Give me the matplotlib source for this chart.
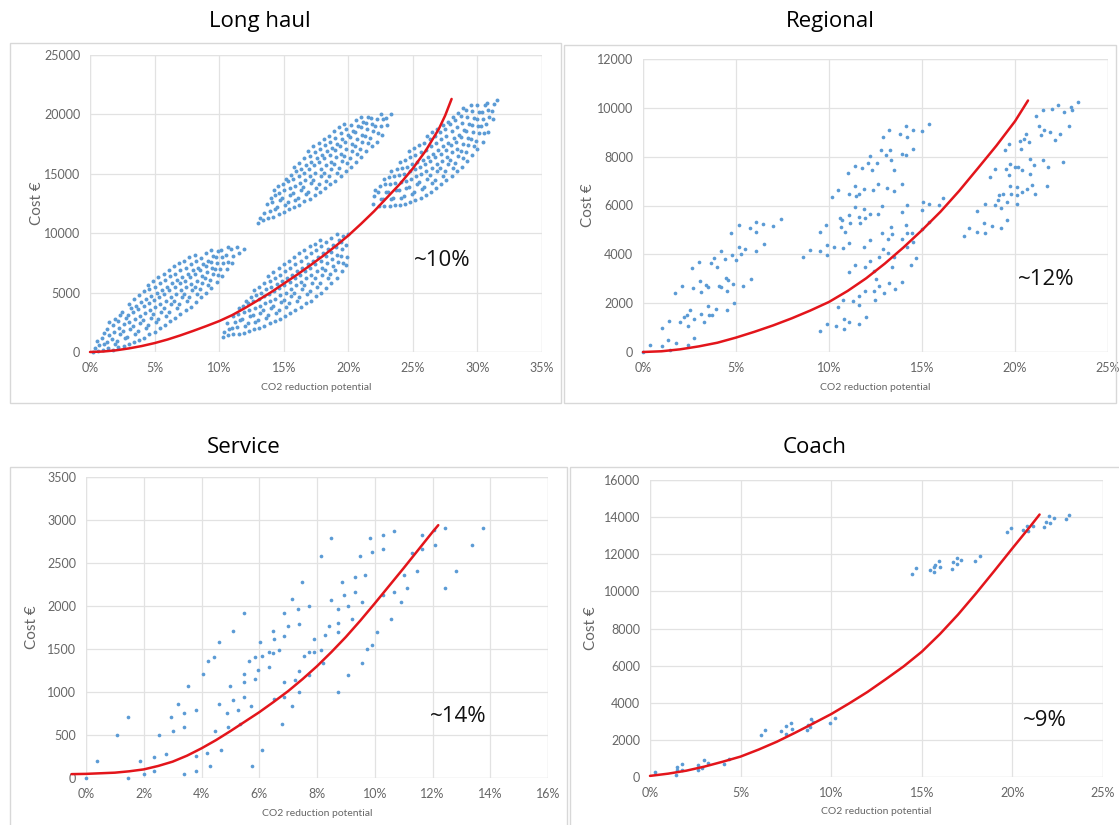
import matplotlib
matplotlib.use("Agg")
import matplotlib.pyplot as plt
from matplotlib.patches import Rectangle

plt.rcParams['font.family'] = ['Lato', 'DejaVu Sans']
HEAD_FONT = ['Open Sans', 'DejaVu Sans']

W, H = 1119, 825

# ---------------- data: x = CO2 reduction potential (%), y = cost ----------------
# Long haul, four clusters (cost in thousand €)
long_haul_c1_k = [
    (0.2, 0.0), (0.35, 0.3), (0.6, 0.1), (0.7, 0.55), (0.55, 0.9),
    (1.0, 0.2), (1.1, 0.7), (0.9, 1.2), (1.05, 1.6),
    (1.4, 0.3), (1.3, 0.85), (1.5, 1.4), (1.35, 1.95), (1.45, 2.5),
    (1.8, 0.2), (1.9, 0.65), (1.7, 1.1), (1.85, 1.7), (1.75, 2.25), (1.95, 2.8),
    (2.2, 0.45), (2.1, 0.95), (2.3, 1.5), (2.25, 2.05), (2.15, 2.6), (2.35, 3.1),
    (2.6, 0.5), (2.7, 1.2), (2.55, 1.8), (2.65, 2.35), (2.75, 2.9), (2.5, 3.4),
    (3.0, 0.65), (2.9, 1.3), (3.1, 1.9), (3.05, 2.5), (2.95, 3.1), (3.15, 3.7), (3.0, 4.0),
    (3.4, 0.8), (3.5, 1.55), (3.3, 2.2), (3.45, 2.8), (3.35, 3.35), (3.55, 3.9), (3.4, 4.5),
    (3.8, 1.0), (3.7, 1.8), (3.9, 2.4), (3.85, 3.0), (3.75, 3.6), (3.95, 4.2), (3.8, 4.8),
    (4.2, 1.2), (4.3, 2.0), (4.1, 2.7), (4.25, 3.3), (4.15, 3.9), (4.35, 4.5), (4.2, 5.1),
    (4.6, 1.5), (4.5, 2.3), (4.7, 2.9), (4.65, 3.5), (4.55, 4.1), (4.75, 4.7), (4.6, 5.3), (4.5, 5.6),
    (5.0, 1.7), (5.1, 2.5), (4.9, 3.2), (5.05, 3.8), (4.95, 4.4), (5.15, 5.0), (5.0, 5.5), (4.9, 6.0),
    (5.4, 2.0), (5.3, 2.8), (5.5, 3.4), (5.45, 4.0), (5.35, 4.6), (5.55, 5.2), (5.4, 5.8), (5.3, 6.3),
    (5.8, 2.3), (5.9, 3.0), (5.7, 3.7), (5.85, 4.3), (5.75, 4.9), (5.95, 5.5), (5.8, 6.1), (5.7, 6.6),
    (6.2, 2.6), (6.1, 3.4), (6.3, 4.0), (6.25, 4.6), (6.15, 5.2), (6.35, 5.8), (6.2, 6.4), (6.1, 6.9),
    (6.6, 2.9), (6.7, 3.7), (6.5, 4.3), (6.65, 4.9), (6.55, 5.5), (6.75, 6.1), (6.6, 6.6), (6.5, 7.2),
    (7.0, 3.2), (6.9, 4.0), (7.1, 4.6), (7.05, 5.2), (6.95, 5.8), (7.15, 6.3), (7.0, 6.9), (6.9, 7.5),
    (7.4, 3.5), (7.5, 4.3), (7.3, 4.9), (7.45, 5.5), (7.35, 6.0), (7.55, 6.6), (7.4, 7.1), (7.3, 7.7),
    (7.8, 3.8), (7.7, 4.6), (7.9, 5.2), (7.85, 5.7), (7.75, 6.3), (7.95, 6.9), (7.8, 7.4), (7.7, 8.0),
    (8.2, 4.2), (8.3, 4.9), (8.1, 5.5), (8.25, 6.0), (8.15, 6.6), (8.35, 7.1), (8.2, 7.7), (8.1, 8.2),
    (8.6, 4.6), (8.5, 5.3), (8.7, 5.8), (8.65, 6.4), (8.55, 6.9), (8.75, 7.4), (8.6, 7.9),
    (9.0, 5.0), (9.1, 5.6), (8.9, 6.2), (9.05, 6.7), (8.95, 7.2), (9.15, 7.7), (9.0, 8.3),
    (9.4, 5.4), (9.3, 6.1), (9.5, 6.6), (9.45, 7.1), (9.35, 7.6), (9.55, 8.1), (9.4, 8.6),
    (9.8, 5.9), (9.9, 6.5), (9.7, 7.0), (9.85, 7.5), (9.75, 8.0), (9.95, 8.5),
    (10.2, 6.4), (10.1, 7.0), (10.3, 7.5), (10.25, 8.0), (10.15, 8.6),
    (10.6, 7.0), (10.7, 7.6), (10.5, 8.2), (10.65, 8.8),
    (11.0, 7.5), (11.1, 8.1), (10.9, 8.7),
    (11.5, 8.3), (11.4, 8.8), (11.9, 8.7),
]
long_haul_c2_k = [
    (10.3, 1.3), (10.4, 1.7),
    (10.7, 1.4), (10.8, 1.9), (10.6, 2.4),
    (11.1, 1.5), (11.0, 2.0), (11.2, 2.5), (11.05, 3.0),
    (11.5, 1.5), (11.4, 2.1), (11.6, 2.7), (11.45, 3.2), (11.55, 3.7),
    (11.9, 1.6), (12.0, 2.2), (11.8, 2.8), (11.95, 3.4), (11.85, 3.9), (12.05, 4.3),
    (12.3, 1.8), (12.2, 2.4), (12.4, 3.0), (12.35, 3.5), (12.25, 4.1), (12.45, 4.6),
    (12.7, 1.9), (12.8, 2.5), (12.6, 3.1), (12.75, 3.7), (12.65, 4.3), (12.85, 4.8), (12.7, 5.2),
    (13.1, 2.0), (13.0, 2.7), (13.2, 3.3), (13.15, 3.9), (13.05, 4.5), (13.25, 5.0), (13.1, 5.5),
    (13.5, 2.2), (13.6, 2.9), (13.4, 3.5), (13.55, 4.1), (13.45, 4.7), (13.65, 5.3), (13.5, 5.8),
    (13.9, 2.4), (13.8, 3.1), (14.0, 3.7), (13.95, 4.3), (13.85, 4.9), (14.05, 5.5), (13.9, 6.0), (13.8, 6.4),
    (14.3, 2.6), (14.4, 3.3), (14.2, 3.9), (14.35, 4.5), (14.25, 5.1), (14.45, 5.7), (14.3, 6.2), (14.2, 6.7),
    (14.7, 2.8), (14.6, 3.5), (14.8, 4.2), (14.75, 4.8), (14.65, 5.4), (14.85, 6.0), (14.7, 6.5), (14.6, 7.1),
    (15.1, 3.0), (15.2, 3.8), (15.0, 4.4), (15.15, 5.0), (15.05, 5.6), (15.25, 6.2), (15.1, 6.8), (15.0, 7.4),
    (15.5, 3.3), (15.4, 4.1), (15.6, 4.7), (15.55, 5.3), (15.45, 5.9), (15.65, 6.5), (15.5, 7.1), (15.4, 7.7),
    (15.9, 3.5), (16.0, 4.3), (15.8, 5.0), (15.95, 5.6), (15.85, 6.2), (16.05, 6.8), (15.9, 7.4), (15.8, 8.0),
    (16.3, 3.8), (16.2, 4.6), (16.4, 5.3), (16.35, 5.9), (16.25, 6.5), (16.45, 7.1), (16.3, 7.7), (16.2, 8.3),
    (16.7, 4.1), (16.8, 4.9), (16.6, 5.6), (16.75, 6.2), (16.65, 6.8), (16.85, 7.4), (16.7, 8.0), (16.6, 8.6),
    (17.1, 4.3), (17.0, 5.1), (17.2, 5.8), (17.15, 6.5), (17.05, 7.1), (17.25, 7.7), (17.1, 8.3), (17.0, 8.9),
    (17.5, 4.7), (17.6, 5.5), (17.4, 6.2), (17.55, 6.8), (17.45, 7.4), (17.65, 8.0), (17.5, 8.6), (17.4, 9.1),
    (17.9, 5.0), (17.8, 5.8), (18.0, 6.5), (17.95, 7.1), (17.85, 7.7), (18.05, 8.3), (17.9, 8.9), (17.8, 9.4),
    (18.3, 5.4), (18.4, 6.2), (18.2, 6.9), (18.35, 7.5), (18.25, 8.1), (18.45, 8.7), (18.3, 9.3),
    (18.7, 5.8), (18.6, 6.6), (18.8, 7.2), (18.75, 7.8), (18.65, 8.4), (18.85, 9.0), (18.7, 9.6),
    (19.1, 6.2), (19.0, 6.9), (19.2, 7.6), (19.15, 8.2), (19.05, 8.8), (19.25, 9.4), (19.1, 9.9),
    (19.5, 6.8), (19.6, 7.5), (19.4, 8.1), (19.55, 8.7), (19.45, 9.3), (19.6, 9.8),
    (19.8, 7.3), (19.9, 8.0), (19.85, 9.0), (20.0, 9.9),
]
long_haul_c3_k = [
    (13.0, 10.9), (13.2, 11.3), (13.4, 11.1), (13.5, 11.7),
    (13.8, 11.3), (13.9, 11.9), (13.7, 12.5), (14.0, 13.0),
    (14.2, 11.4), (14.3, 12.0), (14.1, 12.6), (14.35, 13.2), (14.25, 13.6),
    (14.6, 11.6), (14.5, 12.2), (14.7, 12.8), (14.65, 13.4), (14.55, 14.0),
    (15.0, 11.8), (15.1, 12.4), (14.9, 13.0), (15.05, 13.6), (14.95, 14.1), (15.15, 14.6),
    (15.4, 12.0), (15.3, 12.6), (15.5, 13.2), (15.45, 13.8), (15.35, 14.4), (15.55, 14.9),
    (15.8, 12.2), (15.9, 12.8), (15.7, 13.4), (15.85, 14.0), (15.75, 14.6), (15.95, 15.2), (15.8, 15.6),
    (16.2, 12.4), (16.1, 13.0), (16.3, 13.6), (16.25, 14.2), (16.15, 14.8), (16.35, 15.4), (16.2, 15.9),
    (16.6, 12.7), (16.7, 13.3), (16.5, 13.9), (16.65, 14.5), (16.55, 15.1), (16.75, 15.7), (16.6, 16.3),
    (17.0, 12.9), (16.9, 13.5), (17.1, 14.2), (17.05, 14.8), (16.95, 15.4), (17.15, 16.0), (17.0, 16.5), (16.9, 16.9),
    (17.4, 13.2), (17.5, 13.8), (17.3, 14.5), (17.45, 15.1), (17.35, 15.7), (17.55, 16.3), (17.4, 16.8), (17.3, 17.3),
    (17.8, 13.5), (17.7, 14.1), (17.9, 14.8), (17.85, 15.4), (17.75, 16.0), (17.95, 16.6), (17.8, 17.1), (17.7, 17.6),
    (18.2, 13.8), (18.3, 14.4), (18.1, 15.1), (18.25, 15.7), (18.15, 16.3), (18.35, 16.9), (18.2, 17.4), (18.1, 17.9),
    (18.6, 14.1), (18.5, 14.8), (18.7, 15.4), (18.65, 16.0), (18.55, 16.6), (18.75, 17.2), (18.6, 17.7), (18.5, 18.2),
    (19.0, 14.4), (19.1, 15.1), (18.9, 15.8), (19.05, 16.4), (18.95, 17.0), (19.15, 17.5), (19.0, 18.0), (18.9, 18.6),
    (19.4, 14.8), (19.3, 15.5), (19.5, 16.1), (19.45, 16.7), (19.35, 17.3), (19.55, 17.9), (19.4, 18.4), (19.3, 18.9),
    (19.8, 15.2), (19.9, 15.9), (19.7, 16.5), (19.85, 17.1), (19.75, 17.7), (19.95, 18.3), (19.8, 18.8), (19.7, 19.2),
    (20.2, 15.6), (20.1, 16.3), (20.3, 16.9), (20.25, 17.5), (20.15, 18.1), (20.35, 18.6), (20.2, 19.1),
    (20.6, 16.0), (20.7, 16.7), (20.5, 17.3), (20.65, 17.9), (20.55, 18.5), (20.75, 19.0), (20.6, 19.5),
    (21.0, 16.4), (20.9, 17.1), (21.1, 17.7), (21.05, 18.3), (20.95, 18.9), (21.15, 19.4), (21.0, 19.8),
    (21.4, 16.9), (21.5, 17.6), (21.3, 18.2), (21.45, 18.8), (21.35, 19.3), (21.55, 19.8),
    (21.8, 17.3), (21.7, 18.0), (21.9, 18.6), (21.85, 19.2), (21.75, 19.7),
    (22.2, 17.7), (22.3, 18.4), (22.1, 19.0), (22.25, 19.6),
    (22.6, 18.3), (22.5, 19.0), (22.7, 19.6), (22.55, 20.0),
    (23.0, 19.1), (22.9, 19.7), (23.3, 20.0),
]
long_haul_c4_k = [
    (21.9, 12.5), (22.0, 13.1), (22.1, 13.6),
    (22.4, 12.3), (22.5, 12.9), (22.3, 13.5), (22.45, 14.0),
    (22.8, 12.3), (22.7, 12.9), (22.9, 13.5), (22.85, 14.1), (22.75, 14.6),
    (23.2, 12.3), (23.3, 12.9), (23.1, 13.5), (23.25, 14.1), (23.15, 14.7), (23.3, 15.2),
    (23.6, 12.4), (23.5, 13.0), (23.7, 13.6), (23.65, 14.2), (23.55, 14.8), (23.75, 15.4),
    (24.0, 12.4), (24.1, 13.0), (23.9, 13.6), (24.05, 14.3), (23.95, 14.9), (24.15, 15.5), (24.0, 16.0),
    (24.4, 12.5), (24.3, 13.1), (24.5, 13.8), (24.45, 14.4), (24.35, 15.0), (24.55, 15.6), (24.4, 16.2),
    (24.8, 12.6), (24.9, 13.3), (24.7, 13.9), (24.85, 14.6), (24.75, 15.2), (24.95, 15.8), (24.8, 16.4), (24.7, 16.9),
    (25.2, 12.8), (25.1, 13.5), (25.3, 14.1), (25.25, 14.8), (25.15, 15.4), (25.35, 16.0), (25.2, 16.6), (25.1, 17.2),
    (25.6, 13.0), (25.7, 13.7), (25.5, 14.3), (25.65, 15.0), (25.55, 15.6), (25.75, 16.2), (25.6, 16.8), (25.5, 17.4),
    (26.0, 13.2), (25.9, 13.9), (26.1, 14.6), (26.05, 15.2), (25.95, 15.8), (26.15, 16.4), (26.0, 17.0), (25.9, 17.6), (26.1, 18.2),
    (26.4, 13.5), (26.5, 14.2), (26.3, 14.9), (26.45, 15.5), (26.35, 16.1), (26.55, 16.7), (26.4, 17.3), (26.3, 17.9), (26.5, 18.5),
    (26.8, 13.8), (26.7, 14.5), (26.9, 15.2), (26.85, 15.8), (26.75, 16.4), (26.95, 17.0), (26.8, 17.6), (26.7, 18.2), (26.9, 18.8),
    (27.2, 14.1), (27.3, 14.8), (27.1, 15.5), (27.25, 16.1), (27.15, 16.7), (27.35, 17.3), (27.2, 17.9), (27.1, 18.5), (27.3, 19.1),
    (27.6, 14.5), (27.5, 15.2), (27.7, 15.8), (27.65, 16.4), (27.55, 17.0), (27.75, 17.6), (27.6, 18.2), (27.5, 18.8), (27.7, 19.4),
    (28.0, 14.8), (28.1, 15.5), (27.9, 16.2), (28.05, 16.8), (27.95, 17.4), (28.15, 18.0), (28.0, 18.6), (27.9, 19.2), (28.1, 19.8),
    (28.4, 15.2), (28.3, 15.9), (28.5, 16.5), (28.45, 17.1), (28.35, 17.7), (28.55, 18.3), (28.4, 18.9), (28.3, 19.5), (28.5, 20.1),
    (28.8, 15.6), (28.9, 16.3), (28.7, 16.9), (28.85, 17.5), (28.75, 18.1), (28.95, 18.7), (28.8, 19.3), (28.7, 19.9), (28.9, 20.5),
    (29.2, 16.1), (29.1, 16.8), (29.3, 17.4), (29.25, 18.0), (29.15, 18.6), (29.35, 19.2), (29.2, 19.8), (29.1, 20.4),
    (29.6, 16.6), (29.7, 17.3), (29.5, 17.9), (29.65, 18.5), (29.55, 19.1), (29.75, 19.7), (29.6, 20.3), (29.5, 20.8),
    (30.0, 17.1), (29.9, 17.8), (30.1, 18.4), (30.05, 19.0), (29.95, 19.6), (30.15, 20.2), (30.0, 20.8),
    (30.4, 17.7), (30.5, 18.4), (30.3, 19.0), (30.45, 19.6), (30.35, 20.2), (30.55, 20.8),
    (30.8, 18.5), (30.7, 19.2), (30.9, 19.8), (30.85, 20.4), (30.75, 21.0),
    (31.2, 19.6), (31.1, 20.3), (31.3, 20.9), (31.5, 21.2),
]
long_haul_trend = [(0, 0), (1, 40), (2, 140), (3, 300), (4, 500), (5, 750), (6, 1050),
                   (7, 1400), (8, 1780), (9, 2180), (10, 2600), (11, 3100), (12, 3700),
                   (13, 4350), (14, 5020), (15, 5750), (16, 6480), (17, 7250), (18, 8050),
                   (19, 8900), (20, 9800), (21, 10800), (22, 11850), (23, 13000),
                   (24, 14150), (25, 15450), (26, 16950), (27, 18750), (27.5, 19900),
                   (28.0, 21300)]

# Regional (cost in €)
regional_points = [
    (0.0, 0), (0.4, 300), (1.0, 230), (1.0, 980), (1.35, 500), (1.4, 1280), (1.45, 95),
    (1.7, 2410), (1.8, 370), (2.0, 1210), (2.1, 2710), (2.2, 1430), (2.4, 1070), (2.4, 300),
    (2.35, 1510), (2.55, 1700), (2.65, 3430), (2.7, 2610), (2.75, 570), (2.75, 1350),
    (3.0, 3700), (3.05, 2910), (3.1, 2460), (3.1, 1560), (3.3, 1240), (3.4, 2750), (3.5, 2680),
    (3.5, 1900), (3.55, 1510), (3.65, 3630), (3.7, 1520), (3.8, 3860), (3.9, 1760), (4.0, 3500),
    (4.1, 2720), (4.2, 4120), (4.2, 2650), (4.4, 3800), (4.45, 3020), (4.5, 2480), (4.5, 1700),
    (4.55, 2950), (4.75, 4880), (4.8, 3970), (4.9, 2000), (5.0, 3770), (5.15, 5200), (5.15, 4310),
    (5.25, 4000), (4.85, 2790), (5.4, 2710), (5.5, 4200), (5.75, 5060), (5.8, 2980), (6.1, 5330),
    (6.1, 4900), (6.1, 4140), (6.45, 5240), (6.5, 4420), (7.0, 5170), (7.4, 5440),
    (8.6, 3900), (9.0, 4180), (9.5, 4910), (9.5, 4140), (9.5, 870), (9.85, 5210), (9.9, 3970),
    (9.9, 4380), (9.9, 1160), (10.15, 6350), (10.25, 4310), (10.4, 1070), (10.5, 6630), (10.5, 1860),
    (10.6, 5500), (10.65, 5130), (10.7, 5400), (10.75, 4240), (10.75, 2140), (10.8, 940), (10.8, 1350),
    (10.85, 4930), (11.0, 7330), (11.05, 6490), (11.05, 5610), (11.05, 3280), (11.1, 4450), (11.1, 1210),
    (11.15, 5270), (11.4, 7620), (11.4, 6790), (11.45, 6380), (11.4, 5950), (11.4, 3550), (11.3, 2070),
    (11.6, 6490), (11.6, 5540), (11.65, 5270), (11.6, 2300), (11.6, 1930), (11.6, 1160),
    (11.8, 7550), (11.9, 6690), (11.9, 5840), (11.95, 5470), (11.9, 4310), (11.95, 3500), (11.95, 2480),
    (12.0, 1430), (12.1, 7740), (12.2, 8010), (12.2, 5670), (12.2, 4590), (12.2, 3740), (12.3, 7440),
    (12.35, 6630), (12.4, 3330), (12.4, 2480), (12.45, 2140), (12.5, 2980), (12.6, 7740), (12.65, 6870),
    (12.65, 5670), (12.7, 3900), (12.7, 2710), (12.8, 8260), (12.85, 5970), (12.85, 4860), (12.9, 4200),
    (12.95, 2410), (12.9, 8800), (13.05, 8050), (13.1, 6710), (13.15, 4610), (13.15, 4040), (13.2, 2820),
    (13.25, 9100), (13.3, 8260), (13.35, 7880), (13.35, 5100), (13.4, 4830), (13.4, 3500), (13.5, 7440),
    (13.5, 6600), (13.5, 3900), (13.55, 2570), (13.8, 8940), (13.9, 8120), (13.9, 6900), (13.9, 5740),
    (13.9, 4610), (13.9, 2860), (14.15, 9240), (14.2, 8800), (14.15, 8050), (14.2, 6010), (14.15, 5200),
    (14.2, 4860), (14.2, 4290), (14.5, 9100), (14.5, 8330), (14.45, 4880), (14.5, 4520), (14.4, 3560),
    (15.0, 9070), (15.0, 5810), (15.05, 6150), (15.0, 5020), (14.7, 3840), (15.35, 9320), (15.35, 6080),
    (15.35, 5330), (15.9, 6010), (16.15, 6290),
    (17.25, 4750), (17.55, 5060), (17.95, 5780), (17.95, 4930), (18.35, 5290), (18.4, 4860), (18.4, 6080),
    (18.65, 7170), (18.75, 5170), (18.9, 7510), (18.9, 6010), (19.1, 6220), (19.15, 6420), (19.25, 5060),
    (19.25, 5880), (19.35, 6490), (19.45, 8260), (19.5, 7510), (19.55, 5400), (19.55, 6150), (19.7, 8530),
    (19.7, 7240), (19.75, 7710), (19.75, 6790), (19.8, 6490), (20.0, 7580), (20.1, 6420), (20.1, 6760),
    (20.1, 6080), (20.15, 7580), (20.25, 8640), (20.3, 8330), (20.35, 6560), (20.4, 7440), (20.5, 8730),
    (20.6, 8940), (20.65, 6690), (20.75, 8600), (20.8, 7310), (20.8, 7920), (20.9, 6830), (21.0, 7650),
    (21.05, 6490), (21.15, 9650), (21.3, 9240), (21.4, 8870), (21.5, 9920), (21.55, 9100), (21.5, 7850),
    (21.7, 6790), (21.8, 7580), (21.9, 9030), (22.0, 9960), (22.15, 8670), (22.3, 10120), (22.4, 8940),
    (22.6, 7770), (22.65, 9820), (22.9, 9240), (23.0, 10030), (23.05, 9920), (23.4, 10230),
]
regional_trend = [(0, 0), (1, 30), (2, 110), (3, 230), (4, 380), (5, 590), (6, 830),
                  (7, 1090), (8, 1380), (9, 1700), (10, 2050), (11, 2500), (12, 3020),
                  (13, 3620), (14, 4280), (15, 4990), (16, 5750), (17, 6600), (18, 7520),
                  (19, 8450), (20, 9450), (20.7, 10300)]

# Service (cost in €)
service_points = [
    (0.0, 0), (0.37, 200), (1.08, 505), (1.47, 705), (1.47, 0), (1.88, 200), (2.0, 45),
    (2.36, 250), (2.37, 85), (2.54, 505), (2.76, 280), (2.94, 705), (3.03, 550), (3.17, 865),
    (3.41, 50), (3.41, 755), (3.41, 590), (3.53, 1065), (3.8, 260), (3.8, 785), (3.82, 85),
    (4.05, 1210), (4.2, 290), (4.22, 1365), (4.3, 135), (4.44, 1405), (4.48, 550), (4.6, 1580),
    (4.6, 865), (4.69, 330), (4.87, 755), (4.91, 590), (5.0, 1065), (5.09, 910), (5.09, 1715),
    (5.25, 785), (5.34, 630), (5.46, 1920), (5.46, 1210), (5.46, 1115), (5.46, 940), (5.64, 1365),
    (5.73, 835), (5.74, 135), (5.84, 1150), (5.84, 1405), (5.95, 1260), (6.01, 1580), (6.11, 1415),
    (6.11, 330), (6.33, 1285), (6.33, 1460), (6.48, 1455), (6.48, 1715), (6.5, 1620), (6.5, 920),
    (6.69, 1490), (6.79, 630), (6.87, 1920), (6.87, 1655), (6.87, 1115), (6.87, 940), (6.99, 1765),
    (7.12, 835), (7.12, 2085), (7.24, 1145), (7.34, 1965), (7.36, 1795), (7.36, 1250), (7.36, 995),
    (7.48, 2280), (7.55, 1415), (7.73, 2000), (7.73, 1460), (7.73, 1200), (7.91, 1615), (7.91, 1460),
    (8.13, 2580), (8.13, 1490), (8.22, 1335), (8.28, 1660), (8.4, 1765), (8.49, 2790), (8.49, 2075),
    (8.71, 1965), (8.71, 1800), (8.71, 1700), (8.71, 995), (8.86, 2280), (8.93, 2130), (9.08, 2000),
    (9.08, 1200), (9.2, 1850), (9.3, 2335), (9.3, 2165), (9.48, 2580), (9.55, 2045), (9.55, 1335),
    (9.67, 2355), (9.73, 1505), (9.85, 2785), (9.91, 2630), (9.91, 1550), (10.09, 1700), (10.28, 2830),
    (10.28, 2660), (10.28, 2130), (10.55, 1850), (10.65, 2870), (10.65, 2165), (10.9, 2045),
    (11.02, 2355), (11.1, 2210), (11.29, 2615), (11.47, 2410), (11.63, 2830), (11.63, 2660),
    (12.09, 2705), (12.05, 2880), (12.45, 2905), (12.45, 2210), (12.8, 2410), (13.37, 2705),
    (13.74, 2905),
]
service_trend = [(-0.5, 45), (0, 48), (1, 62), (1.5, 78), (2, 100), (2.5, 140), (3, 190),
                 (3.5, 260), (4, 345), (4.5, 440), (5, 545), (5.5, 655), (6, 765), (6.5, 885),
                 (7, 1010), (7.5, 1150), (8, 1300), (8.5, 1465), (9, 1640), (9.5, 1830),
                 (10, 2030), (10.5, 2235), (11, 2440), (11.5, 2650), (12, 2860), (12.2, 2940)]

# Coach (cost in €)
coach_points = [
    (0.3, 270), (1.46, 90), (1.5, 390), (1.5, 535), (1.79, 680), (1.75, 360), (2.63, 360),
    (2.67, 625), (2.86, 500), (2.96, 890), (3.2, 770), (4.07, 715), (4.38, 950), (6.13, 2270),
    (6.36, 2540), (7.24, 2460), (7.49, 2730), (7.53, 2320), (7.76, 2910), (7.82, 2570), (8.64, 2540),
    (8.7, 2800), (8.85, 2710), (8.89, 3120), (8.99, 2950), (9.96, 2890), (10.21, 3180),
    (14.44, 10930), (14.69, 11250), (15.45, 11160), (15.66, 11290), (15.7, 11040), (15.74, 11430),
    (15.93, 11640), (15.99, 11290), (16.67, 11210), (16.71, 11570), (16.96, 11460), (16.96, 11820),
    (17.16, 11700), (17.94, 11660), (18.19, 11910), (19.69, 13180), (19.92, 13430), (20.56, 13300),
    (20.8, 13520), (20.86, 13250), (21.11, 13520), (21.77, 13450), (21.83, 13750), (22.02, 14050),
    (22.08, 13660), (22.28, 13930), (22.96, 13880), (23.15, 14140),
]
coach_trend = [(0, 60), (1, 180), (2, 340), (3, 560), (4, 820), (5, 1100), (6, 1480),
               (7, 1900), (8, 2380), (9, 2880), (10, 3390), (11, 3970), (12, 4580),
               (13, 5260), (14, 5960), (15, 6750), (16, 7700), (17, 8750), (18, 9900),
               (19, 11100), (20, 12320), (21, 13520), (21.5, 14140)]

titles = ["Long haul", "Regional", "Service", "Coach"]
savings = ["~10%", "~12%", "~14%", "~9%"]

# ---------------- styling ----------------
DOT = "#5B9BD5"
RED = "#E3151B"
GRID = "#e2e2e2"
TXT = "#666666"


def fig_rect(left, top, right, bottom):
    return [left / W, 1 - bottom / H, (right - left) / W, (bottom - top) / H]


def px(x, y):
    return x / W, 1 - y / H


fig = plt.figure(figsize=(W / 100, H / 100), dpi=100)

# chart-area frames
for (x0, y0, x1, y1) in [(10, 43, 561, 403), (564, 45, 1116, 403),
                         (10, 467, 567, 830), (570, 467, 1125, 830)]:
    fig.patches.append(Rectangle((x0 / W, 1 - y1 / H), (x1 - x0) / W, (y1 - y0) / H,
                                 transform=fig.transFigure, fill=False,
                                 ec="#d8d8d8", lw=1.0))

panels = [
    dict(rect=(90, 55, 542, 352), xmax=35, xstep=5, ymax=25000, ystep=5000,
         title_xy=(260, 22), ylab_x=37, xlab_y=388, ann=(27.3, 7700), s=8),
    dict(rect=(643, 59, 1108, 352), xmax=25, xstep=5, ymax=12000, ystep=2000,
         title_xy=(830, 22), ylab_x=588, xlab_y=388, ann=(21.7, 2950), s=7),
    dict(rect=(86, 477, 548, 778), xmax=16, xstep=2, ymax=3500, ystep=500,
         title_xy=(244, 447), ylab_x=32, xlab_y=813, ann=(12.9, 720), s=7),
    dict(rect=(650, 480, 1103, 777), xmax=25, xstep=5, ymax=16000, ystep=2000,
         title_xy=(815, 447), ylab_x=591, xlab_y=812, ann=(21.8, 3050), s=7),
]

scatter_sets = [
    [[(x, y * 1000) for x, y in c] for c in
     (long_haul_c1_k, long_haul_c2_k, long_haul_c3_k, long_haul_c4_k)],
    [regional_points],
    [service_points],
    [coach_points],
]
trends = [long_haul_trend, regional_trend, service_trend, coach_trend]

for i, p in enumerate(panels):
    l, t, r, b = p["rect"]
    ax = fig.add_axes(fig_rect(l, t, r, b))
    ax.set_xlim(0, p["xmax"])
    ax.set_ylim(0, p["ymax"])
    xt = list(range(0, p["xmax"] + 1, p["xstep"]))
    yt = list(range(0, p["ymax"] + 1, p["ystep"]))
    ax.set_xticks(xt)
    ax.set_xticklabels([f"{v}%" for v in xt])
    ax.set_yticks(yt)
    ax.set_yticklabels([str(v) for v in yt])
    ax.tick_params(length=0, labelsize=9, labelcolor=TXT)
    ax.tick_params(axis="x", pad=7)
    ax.tick_params(axis="y", pad=7)
    for sp in ax.spines.values():
        sp.set_visible(False)
    ax.grid(True, color=GRID, lw=0.9)
    ax.set_axisbelow(True)
    # plot-area edge lines at the axis limits
    ax.axhline(p["ymax"], color=GRID, lw=0.9, zorder=0.5)
    ax.axvline(p["xmax"], color=GRID, lw=0.9, zorder=0.5)
    ax.axhline(0, color=GRID, lw=0.9, zorder=0.5)
    ax.axvline(0, color=GRID, lw=0.9, zorder=0.5)

    for pts in scatter_sets[i]:
        ax.scatter([q[0] for q in pts], [q[1] for q in pts], s=p["s"],
                   color=DOT, linewidths=0, zorder=2, clip_on=False)

    tr = trends[i]
    ax.plot([q[0] for q in tr], [q[1] for q in tr], color=RED, lw=1.8,
            zorder=3, clip_on=False, solid_capstyle="round",
            solid_joinstyle="round")

    ax.text(p["ann"][0], p["ann"][1], savings[i], fontsize=16, color="#111111",
            family=HEAD_FONT, ha="center", va="center", zorder=4)

    fig.text(*px(*p["title_xy"]), titles[i], fontsize=16, color="black",
             family=HEAD_FONT, ha="center", va="center")
    fig.text(*px(p["ylab_x"], (t + b) / 2), "Cost €", fontsize=11, color=TXT,
             rotation=90, ha="center", va="center")
    fig.text(*px((l + r) / 2, p["xlab_y"]), "CO2 reduction potential", fontsize=7.5,
             color=TXT, ha="center", va="center")

fig.savefig("out.png", dpi=100, facecolor="white")
